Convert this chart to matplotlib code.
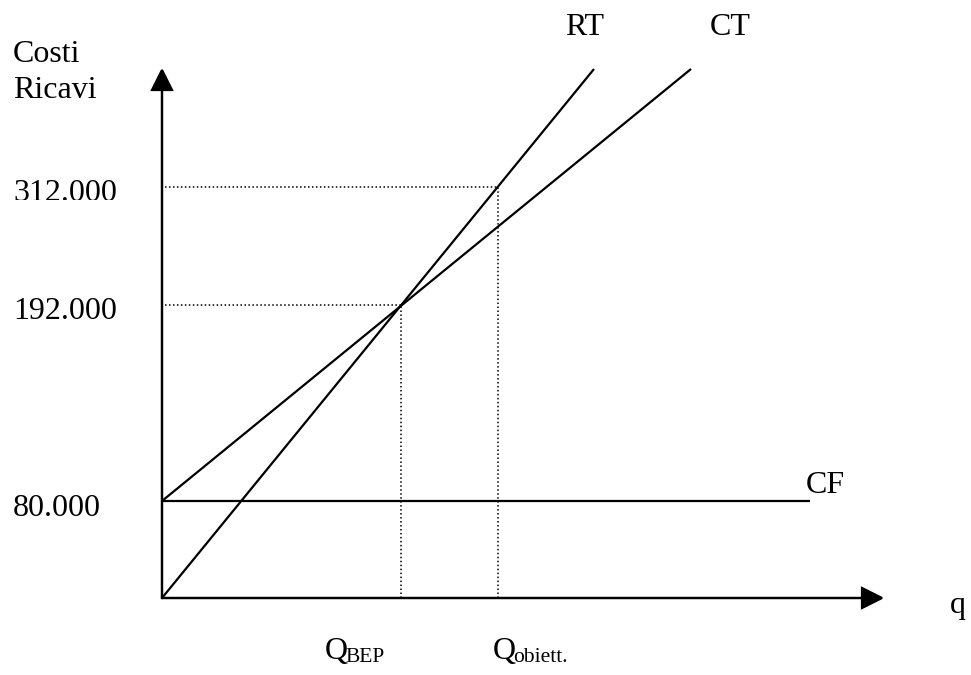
import matplotlib.pyplot as plt
import numpy as np
from matplotlib.transforms import Bbox, TransformedBbox

plt.rcParams["font.family"] = ["Liberation Serif", "DejaVu Serif"]

# schematic break-even chart (units: drawing units, not to scale)
level_labels = ["80.000", "192.000", "312.000"]
q_labels = [("Q", "BEP"), ("Q", "obiett.")]
q_marks = [239, 336]

cf_q, cf_y = [0, 648], [97, 97]
ct_q, ct_y = [0, 529], [97, 529]
rt_q, rt_y = [0, 432], [0, 529]
line_names = ["RT", "CT", "CF"]

fig = plt.figure(figsize=(9.71, 6.75), dpi=100)
ax = fig.add_axes([0, 0, 1, 1])
ax.set_xlim(-162, 809)
ax.set_ylim(-77, 598)
ax.axis("off")

black = "#000000"
fs = 23

# axes with arrows
ax.arrow(0, 0, 0, 528, width=0.01, head_width=20, head_length=20,
         length_includes_head=True, fc=black, ec=black, lw=1.6)
ax.arrow(0, 0, 720, 0, width=0.01, head_width=20, head_length=20,
         length_includes_head=True, fc=black, ec=black, lw=1.6)

# lines
for q, y in [(rt_q, rt_y), (ct_q, ct_y), (cf_q, cf_y)]:
    ax.plot(q, y, color=black, lw=1.6, solid_capstyle="butt")

rt_fn = lambda q: np.interp(q, rt_q, rt_y)
y_levels = [cf_y[0]] + [float(rt_fn(q)) for q in q_marks]

# dotted guides
dot = dict(color=black, lw=1.1, linestyle=(0, (1, 1.6)))
for q, y in zip(q_marks, y_levels[1:]):
    ax.plot([3, q], [y, y], **dot)
    ax.plot([q, q], [0, y], **dot)

# level labels (bottom slightly clipped as in the original)
offsets = [-15, -14, -14]
for lab, y, off in zip(level_labels, y_levels, offsets):
    base = y + off
    t = ax.text(-149, base, lab, fontsize=fs, ha="left", va="baseline")
    if lab != "80.000":
        t.set_clip_on(True)
        t.set_clip_box(TransformedBbox(Bbox([[-160, base + 0.5], [-30, base + 40]]),
                                       ax.transData))

# axis titles
ax.text(-149, 598 - 62, "Costi", fontsize=fs, va="baseline")
ax.text(-149, 598 - 98, "Ricavi", fontsize=fs, va="baseline")
ax.text(788, 598 - 613, "q", fontsize=fs, va="baseline")

# line names
ax.text(403, 598 - 35, line_names[0], fontsize=fs, va="baseline")
ax.text(548, 598 - 35, line_names[1], fontsize=fs, va="baseline")
ax.text(644, 598 - 493, line_names[2], fontsize=fs, va="baseline")

# quantity labels
for (main, sub), q in zip(q_labels, q_marks):
    x0 = q - 76 if sub == "BEP" else q - 5
    ax.text(x0, 598 - 659, main, fontsize=fs, va="baseline")
    ax.text(x0 + 20, 598 - 662, sub, fontsize=15.5, va="baseline")

fig.savefig("out.png", dpi=100)
